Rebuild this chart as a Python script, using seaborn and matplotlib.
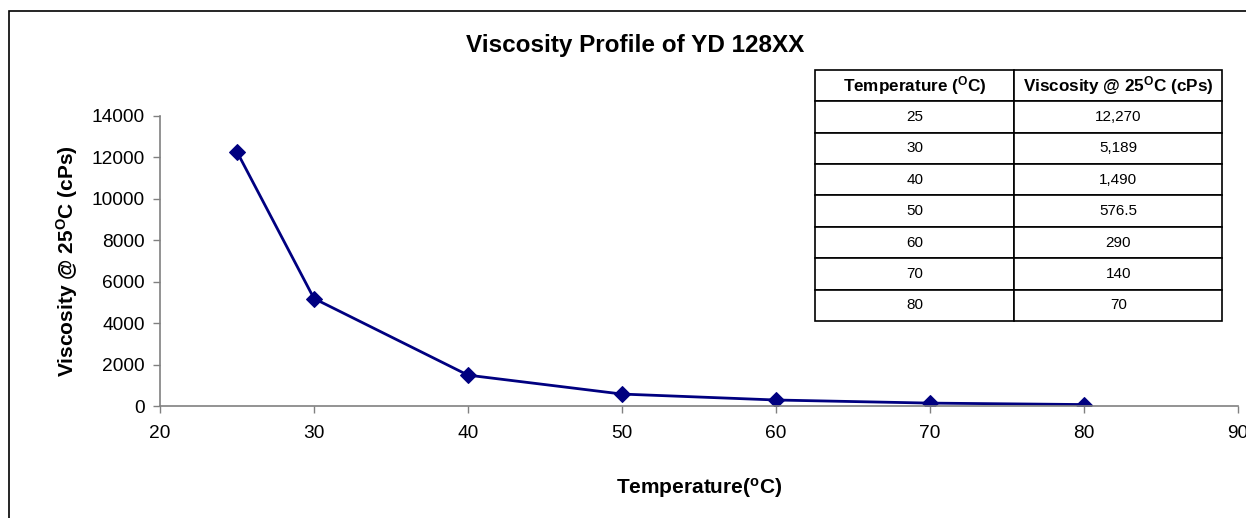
'''viscosity profile line chart with data table'''
import pandas as pd
import numpy as np
import seaborn as sns
import matplotlib.pyplot as plt
from matplotlib.patches import Rectangle

# data
temperature = [25, 30, 40, 50, 60, 70, 80]
viscosity = [12270, 5189, 1490, 576.5, 290, 140, 70]
viscosity_text = ['12,270', '5,189', '1,490', '576.5', '290', '140', '70']
x_ticks = [20, 30, 40, 50, 60, 70, 80, 90]
y_ticks = [0, 2000, 4000, 6000, 8000, 10000, 12000, 14000]

sns.set_theme(style='white')
plt.rcParams['font.family'] = ['Liberation Sans', 'DejaVu Sans']
plt.rcParams['mathtext.fontset'] = 'custom'
plt.rcParams['mathtext.rm'] = 'Liberation Sans'
plt.rcParams['mathtext.bf'] = 'Liberation Sans:bold'
plt.rcParams['text.color'] = 'black'
plt.rcParams['axes.labelcolor'] = 'black'
plt.rcParams['xtick.color'] = 'black'
plt.rcParams['ytick.color'] = 'black'

df = pd.DataFrame({'temp': temperature, 'visc': viscosity})

fig = plt.figure(figsize=(12.46, 5.18), dpi=100)
ax = fig.add_axes([0.1284, 0.2162, 0.8652, 0.5599])

# outer chart border
fig.patches.append(Rectangle((9 / 1246, -0.05), 1.2, 0.9788 + 0.05, transform=fig.transFigure,
                             fill=False, edgecolor='black', linewidth=1.2))

sns.lineplot(data=df, x='temp', y='visc', ax=ax, color='#000080', linewidth=2,
             marker='D', markersize=8, markeredgecolor='#000080', markerfacecolor='#000080')

ax.set_xlim(20, 90)
ax.set_ylim(0, 14000)
ax.set_xticks(x_ticks)
ax.set_yticks(y_ticks)
ax.tick_params(axis='both', labelsize=13.8, length=5, width=1, color='#808080',
               labelcolor='black', direction='out', bottom=True, left=True, pad=6)
ax.tick_params(axis='x', pad=9)
for side in ['top', 'right']:
    ax.spines[side].set_visible(False)
for side in ['left', 'bottom']:
    ax.spines[side].set_color('#808080')
    ax.spines[side].set_linewidth(1.2)
ax.set_facecolor('white')
ax.grid(False)

ax.set_xlabel(r'Temperature($\mathbf{^{o}}$C)', fontsize=15, fontweight='bold', labelpad=24)
ax.set_ylabel(r'Viscosity @ 25$\mathbf{^{O}}$C (cPs)', fontsize=15, fontweight='bold', labelpad=8)
fig.text(0.51, 0.913, 'Viscosity Profile of YD 128XX', fontsize=17.5, fontweight='bold',
         ha='center', va='center')

# data table
cell_text = [[str(t), v] for t, v in zip(temperature, viscosity_text)]
col_labels = [r'Temperature ($\mathbf{^{O}}$C)', r'Viscosity @ 25$\mathbf{^{O}}$C (cPs)']
tbl = ax.table(cellText=cell_text, colLabels=col_labels, cellLoc='center',
               bbox=[0.6076, 0.293, 0.3776, 0.866], colWidths=[0.49, 0.51])
tbl.auto_set_font_size(False)
tbl.set_fontsize(11)
for (r, c), cell in tbl.get_celld().items():
    cell.set_edgecolor('black')
    cell.set_linewidth(1.2)
    cell.set_facecolor('white')
    cell.get_text().set_color('black')
    if r == 0:
        cell.get_text().set_fontweight('bold')
        cell.get_text().set_fontsize(12.3)
tbl.set_clip_on(False)

fig.savefig('out.png', dpi=100)
